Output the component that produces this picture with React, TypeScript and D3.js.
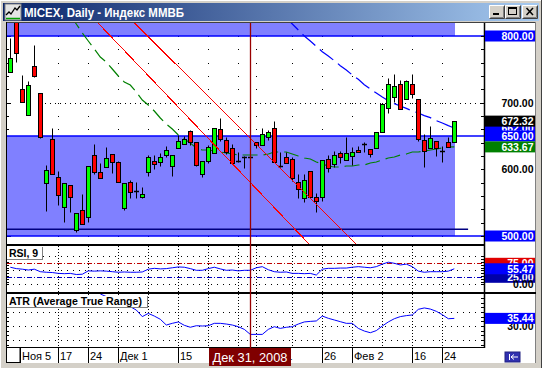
import React from "react";
import * as d3 from "d3";

const FONT = "'Liberation Sans', Arial, sans-serif";

// ---- price data (one candle per trading day, Nov 5 2008 .. Feb 26 2009) ----
const opens = [745.5, 834, 720.5, 681.5, 755, 714, 579, 645.5, 588, 544, 576, 509, 539, 529, 621, 596, 604, 622.5, 610.5, 542.5,
  580.5, 567, 559, 595.5, 612.5, 610.5, 621.5, 605.5, 631.5, 637.5, 657.5, 640.5, 592.5, 612.5, 624, 660, 644, 631.5, 613, 618,
  619, 640.5, 636.5, 649, 661.5, 605.5, 619, 615, 581.5, 556.5, 597.5, 559, 559, 615.5, 607.5, 624, 614, 620.5, 629, 637.5,
  630.5, 631.5, 656.5, 692.5, 709, 727.5, 705, 727.5, 705, 644, 631.5, 642.5, 628, 640.5, 640.5];
const highs = [796.5, 840, 741.5, 732.5, 786.5, 714, 606.5, 661.5, 597.5, 579.5, 576.5, 534.5, 563, 605, 638, 609, 633, 622.5, 613, 579.5,
  584, 580.5, 573, 621.5, 621.5, 625, 635, 621.5, 651.5, 650.5, 659, 640.5, 612.5, 636.5, 661.5, 676.5, 649, 637.5, 625.5, 620.5,
  621.5, 641.5, 661.5, 659, 672.5, 626.5, 625.5, 619, 592.5, 592.5, 597.5, 564, 614, 621.5, 627.5, 627.5, 649, 634, 635, 641.5,
  630.5, 655.5, 697.5, 737.5, 742.5, 734, 734, 742.5, 705, 652.5, 665, 642.5, 635.5, 648.5, 672.32];
const lows = [745.5, 761.5, 700.5, 681.5, 739, 646.5, 537.5, 592.5, 546.5, 521.5, 535.5, 505.5, 517.5, 521.5, 592.5, 586.5, 604, 594, 581.5, 539,
  557.5, 557.5, 556.5, 590.5, 600.5, 605, 619, 590.5, 631.5, 637.5, 636.5, 605.5, 589, 609, 624, 642.5, 622.5, 609, 611.5, 602.5,
  614, 631.5, 636.5, 644, 610.5, 604, 609, 582.5, 557.5, 550.5, 557.5, 535.5, 553, 596.5, 604, 609, 614, 606.5, 625.5, 625.5,
  619, 631.5, 656.5, 685, 700.5, 690, 705, 707.5, 642.5, 604, 631.5, 620.5, 611.5, 633, 640.5];
const closes = [766.5, 774, 700.5, 726.5, 740.5, 648, 599, 592.5, 561, 579, 558, 534, 517.5, 605, 595.5, 587.5, 616.5, 611.5, 581.5, 579,
  566.5, 567, 562.5, 618, 607.5, 618, 629, 621.5, 642.5, 645.5, 640.5, 606.5, 612.5, 633, 661.5, 645, 626.5, 609, 613, 618,
  619, 636.5, 653, 655.5, 610.5, 605.5, 609, 586.5, 570, 584, 559, 553, 614, 602.5, 621.5, 619, 624, 626.5, 625.5, 637.5,
  622.5, 655.5, 697.5, 727.5, 725, 690, 732.5, 712.5, 645, 628, 646.5, 631.5, 628, 633, 672.32];

// green dashed moving average
const maLine: (number | null)[] = [null, null, null, null, null, null, null, null, null, null,
  830, 818, 804.5, 792.5, 780.5, 768.5, 761, 750.5, 740, 731,
  726.5, 716, 704, 696.5, 687.5, 677, 668, 660.5, 651.5, 645.5,
  639.5, 632, 629, 629, 627.5, 626, 624.5, 623, 621.5, 621.5,
  621.5, 621.5, 621.5, 623, 626, 626, 626, 623, 620, 617,
  615.5, 611, 608, 605, 603.5, 603.5, 605, 605, 606.5, 606.5,
  609.5, 611, 614, 617, 618.5, 621.5, 623, 626, 626, 627.5,
  629, 630.5, 632, 633.5, 633.67];

// blue dashed line
const blueLine: (number | null)[] = [...Array(46).fill(null),
  827, 818, 809, 800, 792.5, 784.5, 776.5, 770, 763, 755.5,
  749, 741.5, 735, 727, 720.5, 714.5, 708.5, 703, 698.5, 695,
  691.5, 687.5, 684.5, 680.5, 677.5, 673, 669.5, 665.5, 662];

// RSI(9)
const rsi = [61, 56, 54, 51, 54, 45, 43, 42, 39, 38, 39, 35, 36, 48, 47, 48, 47, 45, 43, 44,
  43, 43, 44, 54, 57, 55, 56, 59, 62, 61, 56, 50, 50, 56, 61, 55, 50, 51, 48, 50,
  50, 59, 63, 52, 45, 43, 44, 39, 39, 38, 39, 33, 54, 57, 57, 58, 58, 61, 63, 61,
  59, 63, 72, 79, 75, 69, 72, 63, 47, 43, 45, 45, 45, 47, 55.47];

// ATR
const atr: (number | null)[] = [null, null, null, null, null, null, null, null, null, null, null, null, null, null, null,
  52.9, 51, 49, 47.4, 45.5, 43.8, 41.4, 36.7, 39, 37.1, 34.8, 30.7, 31.9, 32.9, 30.5,
  29.1, 30.2, 30, 30.2, 31.9, 31.9, 31.4, 30.7, 29.5, 27.6, 24, 24, 24, 27.6, 29.5,
  28.3, 29.1, 29.5, 31.4, 32.9, 33.3, 33.6, 37.1, 35.5, 34.3, 33.1, 31.9, 31.9, 28.3, 26.4,
  25.2, 26.7, 30, 32.9, 35.2, 36.7, 37.4, 37.9, 41.9, 42.9, 42.1, 40.5, 38.1, 35.2, 35.44];

// drawn trend lines: two anchor points (bar index, price)
const trendA = [[20.78, 819], [57.78, 486.5]];
const trendB = [[14.67, 819], [49.95, 486.5]];

// zones / levels
const zoneUpper = 800;
const zoneHi = 650;
const zoneLo = 500;
const supportLevel = 510;
const supportEnd = 76.3;

const gridIdx = [8, 13, 18, 23, 28, 33, 38, 41, 47, 52, 57, 62, 67, 72];
const dateIdx = [0, 8, 13, 18, 28, 41, 52, 57, 67, 72];
const dateText = ["Ноя 5", "17", "24", "Дек 1", "15", "Янв 11", "26", "Фев 2", "16", "24"];
const crossIdx = 40;
const crossText = "Дек 31, 2008";
const titleText = "MICEX, Daily - Индекс ММВБ";

export default function App() {
  const N = closes.length;
  const xS = d3.scaleLinear().domain([0, 74]).range([10.3, 454.3]);
  const yS = d3.scaleLinear().domain([500, 800]).range([236, 36]);
  const yR = d3.scaleLinear().domain([0, 100]).range([284.3, 256.3]);
  const yA = d3.scaleLinear().domain([20, 40]).range([340, 312]);
  const cx = (i: number) => Math.round(xS(i));
  const cr = (v: number) => Math.round(v) + 0.5;

  const lineP = (arr: (number | null)[], ys: (v: number) => number) =>
    d3.line<number | null>().defined((d) => d != null).x((_, i) => xS(i)).y((d) => ys(d as number))(arr) || "";

  const trend = (t: number[][]) => {
    const [[i1, p1], [i2, p2]] = t;
    const s = (p2 - p1) / (i2 - i1);
    const a = -10, b = 90;
    return { x1: xS(a), y1: yS(p1 + (a - i1) * s), x2: xS(b), y2: yS(p1 + (b - i1) * s) };
  };
  const tA = trend(trendA);
  const tB = trend(trendB);

  const levels = d3.range(500, 821, 20);
  const lastX = cx(N - 1) + 1;

  const tag = (y: number, text: string, fill: string | null, color = "#fff", key?: string) => (
    <g key={key ?? text}>
      {fill && <rect x={485} y={y - 5.5} width={50} height={11} fill={fill} />}
      <text x={533.5} y={y + 4} textAnchor="end" fill={color} fontWeight="bold" fontSize={10.5} fontFamily={FONT}>{text}</text>
    </g>
  );

  const button = (x: number, kind: string) => (
    <g key={kind}>
      <rect x={x} y={5} width={16} height={14} fill="#d4d0c8" />
      <path d={`M${x + 0.5},${18.5}V${5.5}H${x + 15.5}`} stroke="#fff" fill="none" />
      <path d={`M${x + 0.5},${18.5}H${x + 15.5}V${5.5}`} stroke="#404040" fill="none" />
      <path d={`M${x + 1.5},${17.5}H${x + 14.5}V${6.5}`} stroke="#808080" fill="none" />
      {kind === "min" && <rect x={x + 4} y={13} width={6} height={2} fill="#000" />}
      {kind === "max" && (
        <g>
          <rect x={x + 3.5} y={7.5} width={8} height={7} stroke="#000" fill="none" />
          <line x1={x + 3.5} x2={x + 11.5} y1={8.5} y2={8.5} stroke="#000" />
        </g>
      )}
      {kind === "close" && (
        <g stroke="#000" strokeWidth={1.5}>
          <line x1={x + 4.5} y1={8} x2={x + 11} y2={15} />
          <line x1={x + 11} y1={8} x2={x + 4.5} y2={15} />
        </g>
      )}
    </g>
  );

  return (
    <svg width={542} height={368} style={{ position: "absolute", left: 0, top: 0, display: "block" }} fontFamily={FONT}>
      <defs>
        <linearGradient id="tb" x1="0" x2="1" y1="0" y2="0">
          <stop offset="0" stopColor="#0a246a" />
          <stop offset="1" stopColor="#a6caf0" />
        </linearGradient>
        <clipPath id="cMain"><rect x={7} y={23} width={477} height={221} /></clipPath>
        <clipPath id="cRsi"><rect x={7} y={246} width={477} height={46} /></clipPath>
        <clipPath id="cAtr"><rect x={7} y={294} width={477} height={52} /></clipPath>
      </defs>

      {/* window frame */}
      <rect x={0} y={0} width={542} height={368} fill="#d4d0c8" />
      <line x1={0.5} y1={0} x2={0.5} y2={368} stroke="#fff" />
      <line x1={0} y1={0.5} x2={542} y2={0.5} stroke="#fff" />
      <line x1={541.5} y1={0} x2={541.5} y2={368} stroke="#404040" />
      <rect x={3} y={3} width={536} height={18} fill="url(#tb)" />
      <rect x={5} y={4} width={16} height={16} fill="#e4e4e4" stroke="#808080" />
      <polyline points="6,15 9,12 11,14 15,8 17,10 20,6" stroke="#000" fill="none" strokeWidth={1.3} />
      <line x1={6} y1={18.5} x2={20} y2={18.5} stroke="#00a000" strokeWidth={1.5} />
      <text x={24} y={16.5} fill="#fff" fontWeight="bold" fontSize={12.5} textLength={160} lengthAdjust="spacingAndGlyphs">{titleText}</text>
      {button(489, "min")}
      {button(505, "max")}
      {button(522, "close")}

      {/* client area */}
      <rect x={6} y={22} width={530} height={341} fill="#fff" />
      <line x1={6} y1={22.5} x2={536} y2={22.5} stroke="#404040" />
      <line x1={6.5} y1={22} x2={6.5} y2={363} stroke="#000" />
      <line x1={535.5} y1={22} x2={535.5} y2={363} stroke="#808080" />

      {/* ===== main panel ===== */}
      <g clipPath="url(#cMain)">
        {gridIdx.map((gi) =>
          levels.map((p) => <rect key={`d${gi}-${p}`} x={cx(gi)} y={Math.round(yS(p))} width={1} height={1} fill="#000" />)
        )}
        <line x1={45} x2={484} y1={cr(yS(700))} y2={cr(yS(700))} stroke="#000" strokeDasharray="1 4" />
        {levels.map((p) => (
          <line key={`lt${p}`} x1={7} x2={p % 100 === 0 ? 11 : 9} y1={cr(yS(p))} y2={cr(yS(p))} stroke="#000" />
        ))}
        {/* zones */}
        <rect x={7} y={23} width={lastX - 7} height={yS(zoneUpper) - 23} fill="#8080ff" />
        <rect x={7} y={yS(zoneHi)} width={lastX - 7} height={yS(zoneLo) - yS(zoneHi)} fill="#8080ff" />
        <line x1={7} x2={484} y1={yS(zoneUpper)} y2={yS(zoneUpper)} stroke="#0000ff" strokeWidth={1.5} />
        <line x1={7} x2={484} y1={yS(zoneHi)} y2={yS(zoneHi)} stroke="#0000ff" strokeWidth={1.5} />
        <line x1={7} x2={484} y1={yS(zoneLo)} y2={yS(zoneLo)} stroke="#0000ff" strokeWidth={1.5} />
        <line x1={7} x2={xS(supportEnd)} y1={yS(supportLevel)} y2={yS(supportLevel)} stroke="#000080" strokeWidth={1.5} />

        {/* moving average + blue line */}
        <path d={lineP(maLine, yS)} fill="none" stroke="#008000" strokeWidth={1.2} strokeDasharray="15 6" />
        <path d={lineP(blueLine, yS)} fill="none" stroke="#0000ff" strokeWidth={1.2} strokeDasharray="17 6" />

        {/* candles */}
        {closes.map((c, i) => {
          const o = opens[i];
          const x = cx(i);
          const wx = x + 0.5;
          const hy = cr(yS(highs[i]));
          const ly = cr(yS(lows[i]));
          if (Math.abs(o - c) < 0.01) {
            const yy = cr(yS(c));
            return (
              <g key={i}>
                <line x1={wx} x2={wx} y1={hy} y2={ly} stroke="#000" />
                <line x1={x - 2} x2={x + 3} y1={yy} y2={yy} stroke="#000" strokeWidth={1.5} />
              </g>
            );
          }
          const top = cr(yS(Math.max(o, c)));
          const bot = cr(yS(Math.min(o, c)));
          return (
            <g key={i}>
              <line x1={wx} x2={wx} y1={hy} y2={ly} stroke="#000" />
              <rect x={x - 1.5} y={top} width={4} height={Math.max(1, bot - top)} fill={c > o ? "#00ff00" : "#ff0000"} stroke="#000" />
            </g>
          );
        })}

        {/* trend lines */}
        <line {...tA} stroke="#ff0000" strokeWidth={1} shapeRendering="crispEdges" />
        <line {...tB} stroke="#ff0000" strokeWidth={1} shapeRendering="crispEdges" />
      </g>
      {levels.filter((p) => yS(p) > 23 && yS(p) < 244).map((p) => (
        <line key={`rt${p}`} x1={481} x2={484} y1={cr(yS(p))} y2={cr(yS(p))} stroke="#000" />
      ))}

      {/* ===== RSI panel ===== */}
      <g clipPath="url(#cRsi)">
        {gridIdx.map((gi) => (
          <line key={`rv${gi}`} x1={cx(gi) + 0.5} x2={cx(gi) + 0.5} y1={246} y2={292} stroke="#000" strokeDasharray="1 2" />
        ))}
        {[100, 50, 0].map((v) => (
          <line key={`rh${v}`} x1={7} x2={484} y1={cr(yR(v))} y2={cr(yR(v))} stroke="#000" strokeDasharray="1 5" />
        ))}
        <line x1={7} x2={484} y1={cr(yR(75))} y2={cr(yR(75))} stroke="#c00000" strokeDasharray="5 2 1 2" />
        <line x1={7} x2={484} y1={cr(yR(25))} y2={cr(yR(25))} stroke="#0000c0" strokeDasharray="5 2 1 2" />
        {d3.range(0, 101, 10).map((v) => (
          <line key={`rl${v}`} x1={7} x2={9} y1={cr(yR(v))} y2={cr(yR(v))} stroke="#000" />
        ))}
        <path d={lineP(rsi, yR)} fill="none" stroke="#0000ff" strokeWidth={1} />
      </g>
      {d3.range(0, 101, 10).map((v) => (
        <line key={`rr${v}`} x1={481} x2={484} y1={cr(yR(v))} y2={cr(yR(v))} stroke="#000" />
      ))}
      <rect x={7} y={247} width={35} height={12} fill="#fff" />
      <line x1={42.5} x2={42.5} y1={247} y2={260} stroke="#808080" />
      <line x1={7} x2={43} y1={259.5} y2={259.5} stroke="#808080" />
      <text x={9} y={256.5} fontWeight="bold" fontSize={10.5}>RSI, 9</text>

      {/* ===== ATR panel ===== */}
      <g clipPath="url(#cAtr)">
        {gridIdx.map((gi) => (
          <line key={`av${gi}`} x1={cx(gi) + 0.5} x2={cx(gi) + 0.5} y1={294} y2={346} stroke="#000" strokeDasharray="1 2" />
        ))}
        {[40, 30, 20].map((v) => (
          <line key={`ah${v}`} x1={7} x2={484} y1={cr(yA(v))} y2={cr(yA(v))} stroke="#000" strokeDasharray="1 5" />
        ))}
        {d3.range(10, 60, 10 / 3).map((v) => (
          <line key={`al${v}`} x1={7} x2={9} y1={cr(yA(v))} y2={cr(yA(v))} stroke="#000" />
        ))}
        <path d={lineP(atr, yA)} fill="none" stroke="#0000ff" strokeWidth={1} />
      </g>
      {d3.range(10, 60, 10 / 3).filter((v) => yA(v) > 294 && yA(v) < 346).map((v) => (
        <line key={`ar${v}`} x1={481} x2={484} y1={cr(yA(v))} y2={cr(yA(v))} stroke="#000" />
      ))}
      <rect x={7} y={296} width={140} height={11} fill="#fff" />
      <line x1={147.5} x2={147.5} y1={296} y2={308} stroke="#808080" />
      <line x1={7} x2={148} y1={307.5} y2={307.5} stroke="#808080" />
      <text x={9} y={305} fontWeight="bold" fontSize={10.5} textLength={133} lengthAdjust="spacingAndGlyphs">ATR (Average True Range)</text>

      {/* panel separators */}
      <rect x={6} y={244} width={478} height={2} fill="#000" />
      <rect x={6} y={292} width={530} height={2} fill="#000" />
      <line x1={6} x2={484} y1={347.5} y2={347.5} stroke="#000" />
      <line x1={484.5} x2={484.5} y1={23} y2={348} stroke="#000" strokeWidth={1.5} />

      {/* crosshair */}
      <line x1={cx(crossIdx) + 0.5} x2={cx(crossIdx) + 0.5} y1={23} y2={348} stroke="#990000" strokeWidth={1.3} />

      {/* right labels: main */}
      {tag(yS(700), "700.00", null, "#000")}
      {tag(yS(600), "600.00", null, "#000")}
      {tag(yS(blueLine[N - 1] as number), (blueLine[N - 1] as number).toFixed(2), "#0000ff", "#fff", "blue")}
      {tag(yS(zoneUpper), zoneUpper.toFixed(2), "#0000ff")}
      {tag(yS(zoneHi), zoneHi.toFixed(2), "#0000ff")}
      {tag(yS(zoneLo), zoneLo.toFixed(2), "#0000ff")}
      {tag(yS(closes[N - 1]), closes[N - 1].toFixed(2), "#000000")}
      {tag(yS(maLine[N - 1] as number), (maLine[N - 1] as number).toFixed(2), "#008000")}

      {/* right labels: RSI */}
      {tag(yR(75), "75.00", "#e00000")}
      {tag(yR(25), "25.00", "#0000a8")}
      {tag(yR(rsi[N - 1]), rsi[N - 1].toFixed(2), "#0000ff")}
      {tag(yR(0), "0.00", null, "#000")}

      {/* right labels: ATR */}
      {tag(yA(30), "30.00", null, "#000")}
      {tag(yA(atr[N - 1] as number), (atr[N - 1] as number).toFixed(2), "#0000ff")}

      {/* date axis */}
      <rect x={6.5} y={347.5} width={13.5} height={15} fill="#fff" stroke="#000" />
      {dateIdx.map((di, k) => {
        const x0 = Math.max(cx(di), 20);
        return (
          <g key={`dt${di}`}>
            <line x1={x0 + 0.5} x2={x0 + 0.5} y1={348} y2={363} stroke="#000" />
            <text x={x0 + 2} y={360} fontSize={11} fill="#000">{dateText[k]}</text>
          </g>
        );
      })}
      <rect x={209} y={348} width={82} height={18} fill="#800000" />
      <text x={250} y={361.5} textAnchor="middle" fill="#fff" fontSize={12} textLength={75} lengthAdjust="spacingAndGlyphs">{crossText}</text>

      {/* bottom-right icon */}
      <rect x={505} y={352} width={15} height={10} fill="#3030b0" stroke="#202080" />
      <line x1={509.5} x2={509.5} y1={354} y2={360} stroke="#fff" />
      <path d="M511,357 L514,354.5 M511,357 L514,359.5 M511,357 H518" stroke="#fff" fill="none" />
    </svg>
  );
}
